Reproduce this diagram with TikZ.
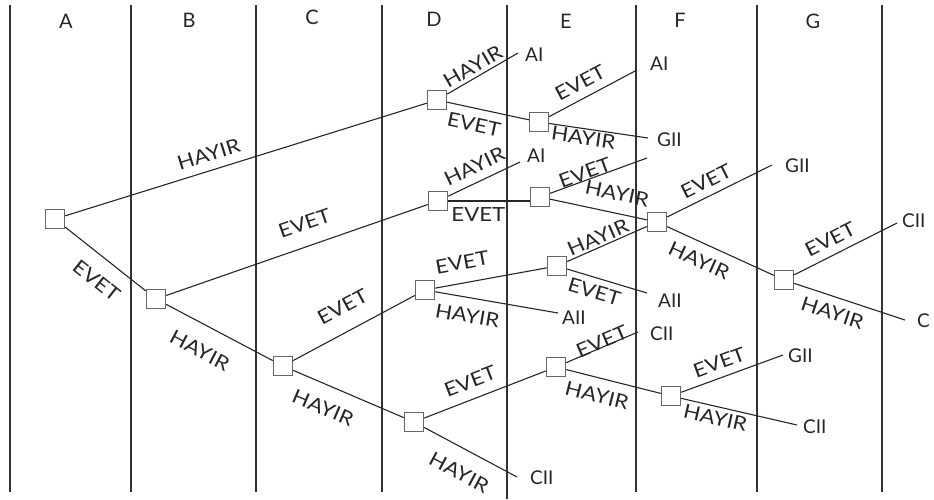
\documentclass[tikz,border=0pt]{standalone}
\usepackage{fontspec}
\setmainfont{Lato}
\newfontfamily\lblfont{Lato}[FakeStretch=1.14]
\begin{document}
\begin{tikzpicture}[x=1pt,y=-1pt,
  col/.style={line width=1.4pt,black!80},
  edge/.style={line width=1.1pt,black!85},
  box/.style={draw=black!60,line width=1.4pt,fill=white,minimum size=19pt,inner sep=0pt},
  lab/.style={font=\lblfont\fontsize{19.5}{19.5}\selectfont,inner sep=0pt,sloped,text=black!85},
  term/.style={font=\fontsize{19}{19}\selectfont,inner sep=0pt,anchor=west,text=black!85},
  head/.style={font=\fontsize{20}{20}\selectfont,inner sep=0pt,text=black!85}]
\useasboundingbox (0,0) rectangle (934,499);
% column separators
\foreach \x in {10,131,256,382,636,757,882} \draw[col] (\x,5) -- (\x,492);
\draw[col] (507,5) -- (507,499);
% column headings
\node[head] (hA) at (66,21) {A};
\node[head] (hB) at (189,20) {B};
\node[head] (hC) at (312,17) {C};
\node[head] (hD) at (434,19) {D};
\node[head] (hE) at (566,21) {E};
\node[head] (hF) at (680,20) {F};
\node[head] (hG) at (813,21) {G};
% decision squares
\node[box] (N1) at (55,219) {};
\node[box] (N2) at (156,299) {};
\node[box] (N3) at (283,366) {};
\node[box] (N4) at (437,100) {};
\node[box] (N5) at (438,201) {};
\node[box] (N6) at (425,290) {};
\node[box] (N7) at (414,422) {};
\node[box] (N8) at (539,122) {};
\node[box] (N9) at (540,197) {};
\node[box] (N10) at (557,266) {};
\node[box] (N11) at (556,367) {};
\node[box] (N12) at (657,222) {};
\node[box] (N13) at (671,396) {};
\node[box] (N14) at (784,280) {};
% end points
\coordinate (e1) at (518,53);
\coordinate (e2) at (637,70);
\coordinate (e3) at (648,138);
\coordinate (e4) at (520,162);
\coordinate (e5) at (647,158);
\coordinate (e6) at (558,313);
\coordinate (e7) at (647,293);
\coordinate (e8) at (517,477);
\coordinate (e9) at (638,332);
\coordinate (e10) at (772,165);
\coordinate (e11) at (897,223);
\coordinate (e12) at (905,320);
\coordinate (e14) at (783,355);
\coordinate (e15) at (797,425);
% outcome texts
\node[term] (t1) at (525,55) {AI};
\node[term] (t2) at (650,64) {AI};
\node[term] (t3) at (657,140) {GII};
\node[term] (t4) at (527,156) {AI};
\node[term] (t6) at (562,318) {AII};
\node[term] (t7) at (658,301) {AII};
\node[term] (t8) at (530,478) {CII};
\node[term] (t9) at (650,334) {CII};
\node[term] (t10) at (785,166) {GII};
\node[term] (t11) at (902,221) {CII};
\node[term] (t12) at (917,321) {C};
\node[term] (t14) at (788,356) {GII};
\node[term] (t15) at (803,427) {CII};
% branches
\draw[edge] (N1) -- node[lab,pos=.41,above=8.6pt]{HAYIR} (N4);
\draw[edge] (N1) -- node[lab,pos=.56,below=14.7pt]{EVET} (N2);
\draw[edge] (N2) -- node[lab,pos=.557,above=15pt]{EVET} (N5);
\draw[edge] (N2) -- node[lab,pos=.425,below=17.6pt]{HAYIR} (N3);
\draw[edge] (N3) -- node[lab,pos=.5,above=16.7pt]{EVET} (N6);
\draw[edge] (N3) -- node[lab,pos=.35,below=15pt]{HAYIR} (N7);
\draw[edge] (N4) -- node[lab,pos=.44,above=3.5pt]{HAYIR} (e1);
\draw[edge] (N4) -- node[lab,pos=.37,below=8.7pt]{EVET} (N8);
\draw[edge] (N8) -- node[lab,pos=.437,above=8.2pt]{EVET} (e2);
\draw[edge] (N8) -- node[lab,pos=.36,below=1.4pt]{HAYIR} (e3);
\draw[edge] (N5) -- node[lab,pos=.46,above=8.2pt]{HAYIR} (e4);
\draw[edge] (N5.east) -- node[lab,pos=.37,below=6pt]{EVET} (N5.east -| N9.west);
\draw[edge] (N9) -- node[lab,pos=.385,above=0pt]{EVET} (e5);
\draw[edge] (N9) -- node[lab,pos=.65,above=12pt]{HAYIR} (N12);
\draw[edge] (N6) -- node[lab,pos=.275,above=12.9pt]{EVET} (N10);
\draw[edge] (N6) -- node[lab,pos=.287,below=10.5pt]{HAYIR} (e6);
\draw[edge] (N10) -- node[lab,pos=.434,above=2pt]{HAYIR} (N12);
\draw[edge] (N10) -- node[lab,pos=.39,below=6.3pt]{EVET} (e7);
\draw[edge] (N7) -- node[lab,pos=.43,above=10pt]{EVET} (N11);
\draw[edge] (N7) -- node[lab,pos=.494,below=15.9pt]{HAYIR} (e8);
\draw[edge] (N11) -- node[lab,pos=.526,above=-2pt]{EVET} (e9);
\draw[edge] (N11) -- node[lab,pos=.37,below=10pt]{HAYIR} (N13);
\draw[edge] (N12) -- node[lab,pos=.433,above=7pt]{EVET} (e10);
\draw[edge] (N12) -- node[lab,pos=.367,below=10pt]{HAYIR} (N14);
\draw[edge] (N14) -- node[lab,pos=.418,above=8pt]{EVET} (e11);
\draw[edge] (N14) -- node[lab,pos=.39,below=8.3pt]{HAYIR} (e12);
\draw[edge] (N13) -- node[lab,pos=.424,above=7.5pt]{EVET} (e14);
\draw[edge] (N13) -- node[lab,pos=.317,below=3.6pt]{HAYIR} (e15);
\end{tikzpicture}
\end{document}
